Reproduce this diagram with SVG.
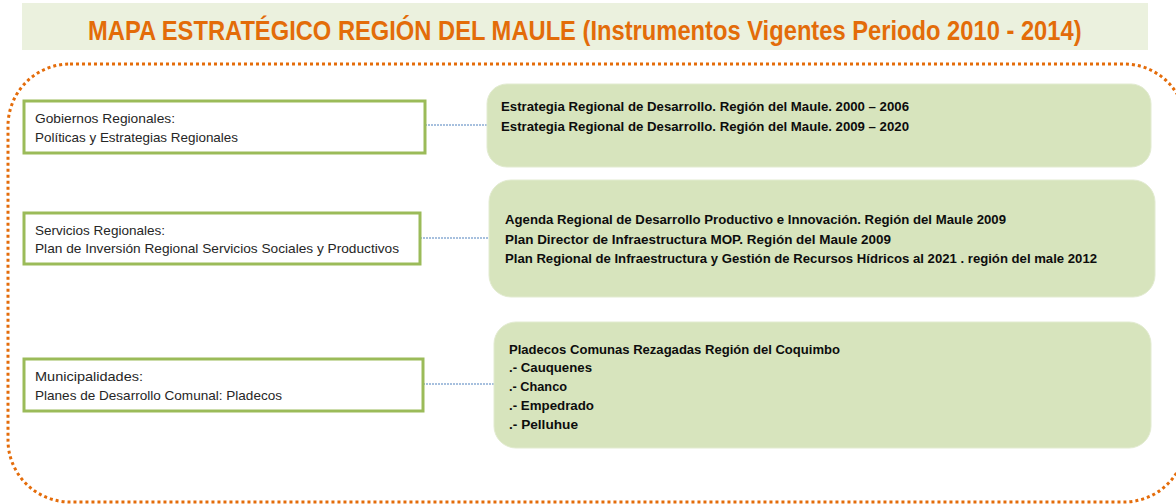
<svg xmlns="http://www.w3.org/2000/svg" width="1176" height="504" viewBox="0 0 1176 504">
<style>
.title{font-family:"Liberation Sans",Arial,sans-serif;font-weight:bold;font-size:27px;fill:#E36C09}
.lbox{fill:#ffffff;stroke:#9BBB59;stroke-width:3}
.gbox{fill:#D7E4BD;stroke:#E2EBD0;stroke-width:1}
.lt{font-family:"Liberation Sans",Arial,sans-serif;font-size:13px;fill:#262626}
.gt{font-family:"Liberation Sans",Arial,sans-serif;font-size:12.5px;font-weight:bold;fill:#0d0d0d}
.conn{stroke:#4F81BD;stroke-width:1;stroke-dasharray:2 1;fill:none}
</style>
<rect width="1176" height="504" fill="#ffffff"/>
<g id="title">
<rect x="22" y="3" width="1126" height="47" fill="#EBF1DE"/>
<text class="title" transform="translate(88,40) scale(0.8,1)" x="0" y="0" textLength="1242" lengthAdjust="spacingAndGlyphs">MAPA ESTRATÉGICO REGIÓN DEL MAULE (Instrumentos Vigentes Periodo 2010 - 2014)</text>
</g>
<g id="frame">
<rect x="8" y="64" width="1178" height="438" rx="62" ry="62" fill="none" stroke="#E46C0A" stroke-width="3" stroke-dasharray="3 3"/>
</g>
<g id="connectors">
<line class="conn" x1="425" y1="125" x2="488" y2="125"/>
<line class="conn" x1="420" y1="238" x2="490" y2="238"/>
<line class="conn" x1="423" y1="384" x2="494" y2="384"/>
</g>
<g id="gobiernos">
<rect class="lbox" x="24" y="101" width="401" height="52"/>
<text class="lt" x="35" y="123" textLength="140" lengthAdjust="spacingAndGlyphs">Gobiernos Regionales:</text>
<text class="lt" x="35" y="141.5" textLength="203" lengthAdjust="spacingAndGlyphs">Políticas y Estrategias Regionales</text>
</g>
<g id="servicios">
<rect class="lbox" x="24" y="213" width="396" height="51"/>
<text class="lt" x="35" y="234.5" textLength="130" lengthAdjust="spacingAndGlyphs">Servicios Regionales:</text>
<text class="lt" x="35" y="253" textLength="364" lengthAdjust="spacingAndGlyphs">Plan de Inversión Regional Servicios  Sociales y Productivos</text>
</g>
<g id="municipalidades">
<rect class="lbox" x="24" y="359" width="399" height="52"/>
<text class="lt" x="35" y="381" textLength="108" lengthAdjust="spacingAndGlyphs">Municipalidades:</text>
<text class="lt" x="35" y="399.5" textLength="247" lengthAdjust="spacingAndGlyphs">Planes de Desarrollo Comunal: Pladecos</text>
</g>
<g id="estrategias">
<rect class="gbox" x="487" y="84" width="664" height="83" rx="20" ry="20"/>
<text class="gt" x="501" y="111" textLength="408" lengthAdjust="spacingAndGlyphs">Estrategia Regional de Desarrollo. Región del Maule. 2000  – 2006</text>
<text class="gt" x="501" y="131" textLength="408" lengthAdjust="spacingAndGlyphs">Estrategia Regional de Desarrollo. Región del Maule. 2009  – 2020</text>
</g>
<g id="planes">
<rect class="gbox" x="489" y="180" width="666" height="117" rx="22" ry="22"/>
<text class="gt" x="505" y="224" textLength="501" lengthAdjust="spacingAndGlyphs">Agenda Regional de Desarrollo Productivo e Innovación. Región del Maule 2009</text>
<text class="gt" x="505" y="244" textLength="386" lengthAdjust="spacingAndGlyphs">Plan Director de Infraestructura MOP. Región del Maule 2009</text>
<text class="gt" x="505" y="263" textLength="592" lengthAdjust="spacingAndGlyphs">Plan Regional de Infraestructura y Gestión de Recursos Hídricos al 2021  . región del male 2012</text>
</g>
<g id="pladecos">
<rect class="gbox" x="494" y="322" width="657" height="126" rx="22" ry="22"/>
<text class="gt" x="509" y="354" textLength="331" lengthAdjust="spacingAndGlyphs">Pladecos Comunas Rezagadas Región del  Coquimbo</text>
<text class="gt" x="509" y="372" textLength="83" lengthAdjust="spacingAndGlyphs">.- Cauquenes</text>
<text class="gt" x="509" y="391" textLength="58" lengthAdjust="spacingAndGlyphs">.- Chanco</text>
<text class="gt" x="509" y="410" textLength="85" lengthAdjust="spacingAndGlyphs">.- Empedrado</text>
<text class="gt" x="509" y="429" textLength="69" lengthAdjust="spacingAndGlyphs">.- Pelluhue</text>
</g>
</svg>
